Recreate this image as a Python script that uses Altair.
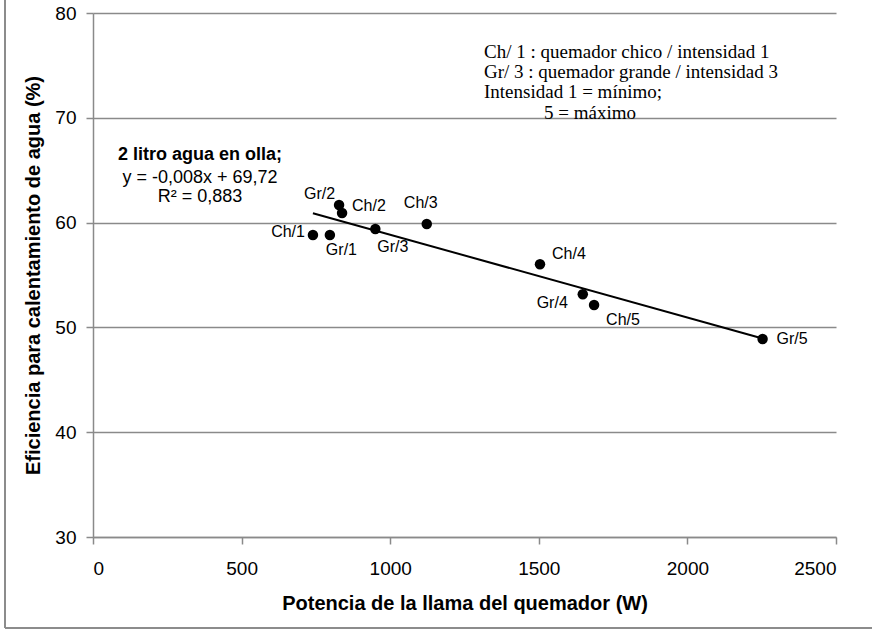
import altair as alt
import pandas as pd

# ---- data ----
labels = ["Ch/1", "Gr/1", "Gr/2", "Ch/2", "Gr/3", "Ch/3", "Ch/4", "Gr/4", "Ch/5", "Gr/5"]
potencia = [740, 797, 828, 838, 950, 1123, 1504, 1648, 1686, 2253]
eficiencia = [58.82, 58.82, 61.68, 60.92, 59.39, 59.87, 56.02, 53.16, 52.14, 48.89]

x_ticks = [0, 500, 1000, 1500, 2000, 2500]
y_ticks = [30, 40, 50, 60, 70, 80]

eq_lines = ["2  litro agua en olla;", "y = -0,008x + 69,72", "R² = 0,883"]
note_lines = ["Ch/ 1 : quemador chico / intensidad 1",
              "Gr/ 3 : quemador grande / intensidad 3",
              "Intensidad 1 = mínimo;",
              "5 = máximo"]

# ---- label placement (style) ----
label_dx = [-8, -4, -4, 10, 2, -6, 12, -15, 12, 14]
label_dy = [-3, 15, -11, -7, 18, -21, -10, 9, 15, 0]
label_align = ["right", "left", "right", "left", "left", "center", "left", "right", "left", "left"]

df = pd.DataFrame({"label": labels, "x": potencia, "y": eficiencia})

FONT = "Liberation Sans"
SERIF = "Liberation Serif"
GRID = "#8a8a8a"

x_enc = alt.X("x:Q", scale=alt.Scale(domain=[0, 2500], nice=False, zero=False),
              axis=alt.Axis(values=x_ticks, format="d", title="Potencia de la llama del quemador (W)",
                            grid=False, labelPadding=15, titleY=66, titleBaseline="middle"))
y_enc = alt.Y("y:Q", scale=alt.Scale(domain=[30, 80], nice=False, zero=False),
              axis=alt.Axis(values=y_ticks, format="d", title="Eficiencia para calentamiento de agua (%)",
                            grid=True, labelPadding=10, titleX=-60, titleBaseline="middle"))

base = alt.Chart(df)

points = base.mark_circle(size=110, color="black", opacity=1).encode(x=x_enc, y=y_enc)
trend = base.transform_regression("x", "y").mark_line(color="black", strokeWidth=2).encode(x=x_enc, y=y_enc)

layers = [trend, points]

for i, lab in enumerate(labels):
    layers.append(
        base.transform_filter(alt.datum.label == lab)
        .mark_text(font=FONT, fontSize=16, color="black", align=label_align[i],
                   baseline="middle", dx=label_dx[i], dy=label_dy[i])
        .encode(x=x_enc, y=y_enc, text="label:N")
    )

eq_y = [142, 165, 184]
for i, t in enumerate(eq_lines):
    layers.append(
        alt.Chart(df).transform_filter(alt.datum.label == labels[0])
        .mark_text(font=FONT, fontSize=18, color="black", align="center", baseline="middle",
                   fontWeight="bold" if i == 0 else "normal")
        .encode(x=alt.value(107), y=alt.value(eq_y[i]), text=alt.value(t))
    )

note_x = [391, 391, 391, 451]
note_y = [39, 59, 79, 100]
for i, t in enumerate(note_lines):
    layers.append(
        alt.Chart(df).transform_filter(alt.datum.label == labels[0])
        .mark_text(font=SERIF, fontSize=19, color="black", align="left", baseline="middle")
        .encode(x=alt.value(note_x[i]), y=alt.value(note_y[i]), text=alt.value(t))
    )

# outer frame of the chart (left and bottom edges visible)
frame_left = alt.Chart(df).transform_filter(alt.datum.label == labels[0]).mark_rule(
    color="#8c8c8c", strokeWidth=2).encode(x=alt.value(-88), y=alt.value(-20), y2=alt.value(615))
frame_bottom = alt.Chart(df).transform_filter(alt.datum.label == labels[0]).mark_rule(
    color="#8c8c8c", strokeWidth=2).encode(x=alt.value(-88), x2=alt.value(800), y=alt.value(615))
layers += [frame_left, frame_bottom]

chart = alt.layer(*layers).properties(
    width=743, height=524,
    autosize=alt.AutoSizeParams(type="none"),
    padding={"left": 93, "top": 13, "right": 36, "bottom": 93},
    background="white",
).configure_view(strokeWidth=0).configure_axis(
    domainColor=GRID, domainWidth=1.5, tickColor=GRID, tickWidth=1.5, tickSize=7,
    gridColor=GRID, gridWidth=1.5,
    labelFont=FONT, labelFontSize=19, labelColor="black",
    titleFont=FONT, titleFontSize=20, titleFontWeight="bold", titleColor="black",
)

chart.save("out.html", embed_options={"renderer": "svg", "actions": False})
